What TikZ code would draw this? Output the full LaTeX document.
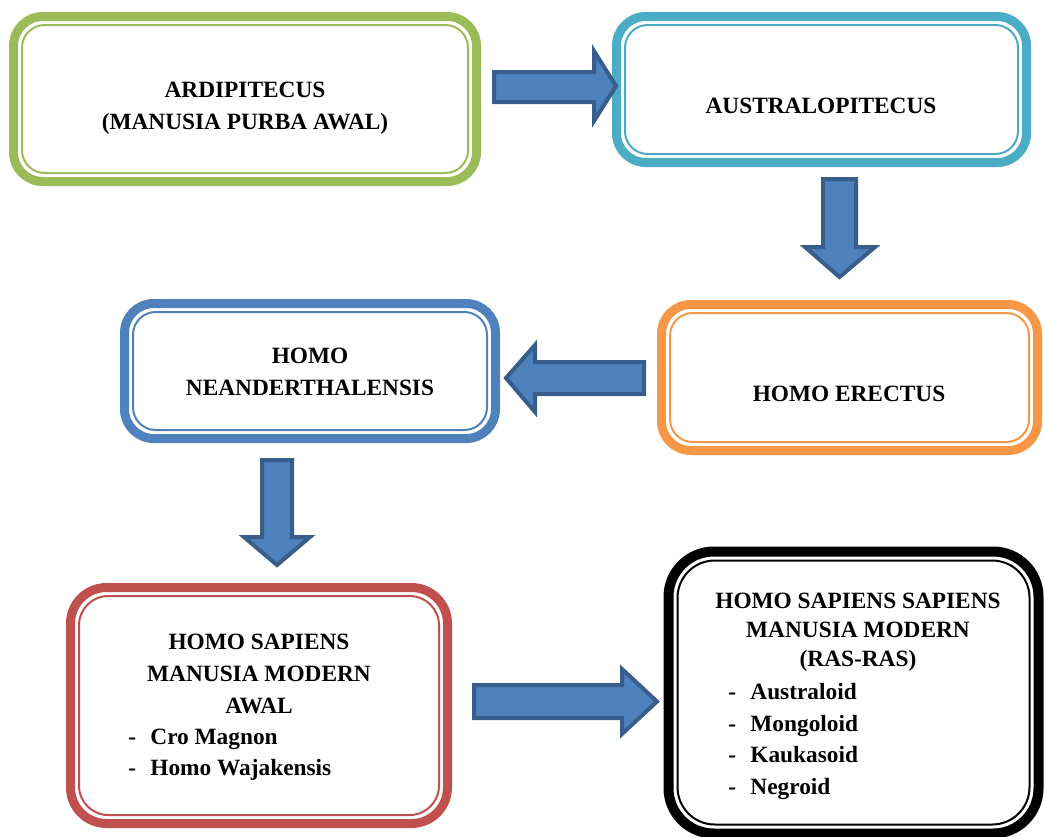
\documentclass[tikz,border=0pt]{standalone}
\usepackage{fontspec}
\setmainfont{Liberation Serif}
\usetikzlibrary{calc}
\definecolor{cgreen}{HTML}{9BBB59}
\definecolor{cteal}{HTML}{4BACC6}
\definecolor{cblue}{HTML}{4F81BD}
\definecolor{corange}{HTML}{F79646}
\definecolor{cred}{HTML}{C0504D}
\definecolor{arfill}{HTML}{4F81BD}
\definecolor{arline}{HTML}{385D8A}
\tikzset{
  boxo/.style={draw=#1, line width=6.75pt, rounded corners=22pt, inner sep=0pt, outer sep=0pt},
  boxi/.style={draw=#1, line width=1.5pt, rounded corners=17pt},
  lbl/.style={font=\fontsize{17.5}{24}\selectfont\bfseries, align=center, inner sep=0pt},
  lst/.style={font=\fontsize{17.5}{23.6}\selectfont\bfseries, align=left, inner sep=0pt, anchor=west},
  blk/.style={fill=arfill, draw=arline, line width=3pt, line join=miter}
}
\newcommand{\itm}[1]{\makebox[0.95em][l]{-}#1}
\begin{document}
\begin{tikzpicture}[x=0.75pt,y=-0.75pt]
\useasboundingbox (0,0) rectangle (1044,836);
% boxes
\node[boxo=cgreen, minimum width=347.25pt, minimum height=123.75pt] (b1) at (245,99) {};
\draw[boxi=cgreen] ($(b1.north west)+(8.5,8.5)$) rectangle ($(b1.south east)+(-8.5,-8.5)$);
\node[boxo=cteal, minimum width=307.5pt, minimum height=109.5pt] (b2) at (821.5,89.5) {};
\draw[boxi=cteal] ($(b2.north west)+(8.5,8.5)$) rectangle ($(b2.south east)+(-8.5,-8.5)$);
\node[boxo=cblue, minimum width=278.25pt, minimum height=101.25pt] (b3) at (310,371) {};
\draw[boxi=cblue] ($(b3.north west)+(8.5,8.5)$) rectangle ($(b3.south east)+(-8.5,-8.5)$);
\node[boxo=corange, minimum width=282pt, minimum height=109.5pt] (b4) at (849.5,377.5) {};
\draw[boxi=corange] ($(b4.north west)+(8.5,8.5)$) rectangle ($(b4.south east)+(-8.5,-8.5)$);
\node[boxo=cred, minimum width=282.75pt, minimum height=177pt, rounded corners=27pt] (b5) at (259,705.5) {};
\draw[boxi=cred, rounded corners=22pt] ($(b5.north west)+(8.5,8.5)$) rectangle ($(b5.south east)+(-8.5,-8.5)$);
\node[boxo=black, line width=7.5pt, minimum width=277.5pt, minimum height=211.5pt, rounded corners=34pt] (b6) at (853.5,692.5) {};
\draw[boxi=black, rounded corners=28pt] ($(b6.north west)+(9,9)$) rectangle ($(b6.south east)+(-9,-9)$);
% texts
\node[lbl] (t1) at (245,108) {ARDIPITECUS\\(MANUSIA PURBA AWAL)};
\node[lbl] (t2) at (821,106) {AUSTRALOPITECUS};
\node[lbl] (t3) at (310,372) {HOMO\\NEANDERTHALENSIS};
\node[lbl] (t4) at (849,394) {HOMO ERECTUS};
\node[lbl] (t5) at (259,674) {HOMO SAPIENS\\MANUSIA MODERN\\AWAL};
\node[lst] (l5) at (128,754.5) {\itm{Cro Magnon}\\\itm{Homo Wajakensis}};
\node[lbl, font=\fontsize{17.5}{21.75}\selectfont\bfseries] (t6) at (858,632) {HOMO SAPIENS SAPIENS\\MANUSIA MODERN\\(RAS-RAS)};
\node[lst] (l6) at (728,741.5) {\itm{Australoid}\\\itm{Mongoloid}\\\itm{Kaukasoid}\\\itm{Negroid}};
% block arrows
\draw[blk] (494,72) -- (594,72) -- (594,51) -- (616,86) -- (594,121) -- (594,102) -- (494,102) -- cycle;
\draw[blk] (823,179) -- (856,179) -- (856,247) -- (875,247) -- (839.5,277) -- (805,247) -- (823,247) -- cycle;
\draw[blk] (644,362) -- (535,362) -- (535,345) -- (506,378) -- (535,412) -- (535,394) -- (644,394) -- cycle;
\draw[blk] (262,460) -- (292,460) -- (292,537) -- (310,537) -- (277,565) -- (244,537) -- (262,537) -- cycle;
\draw[blk] (474,685) -- (622,685) -- (622,669) -- (657,701.5) -- (622,734) -- (622,718) -- (474,718) -- cycle;
\end{tikzpicture}
\end{document}
